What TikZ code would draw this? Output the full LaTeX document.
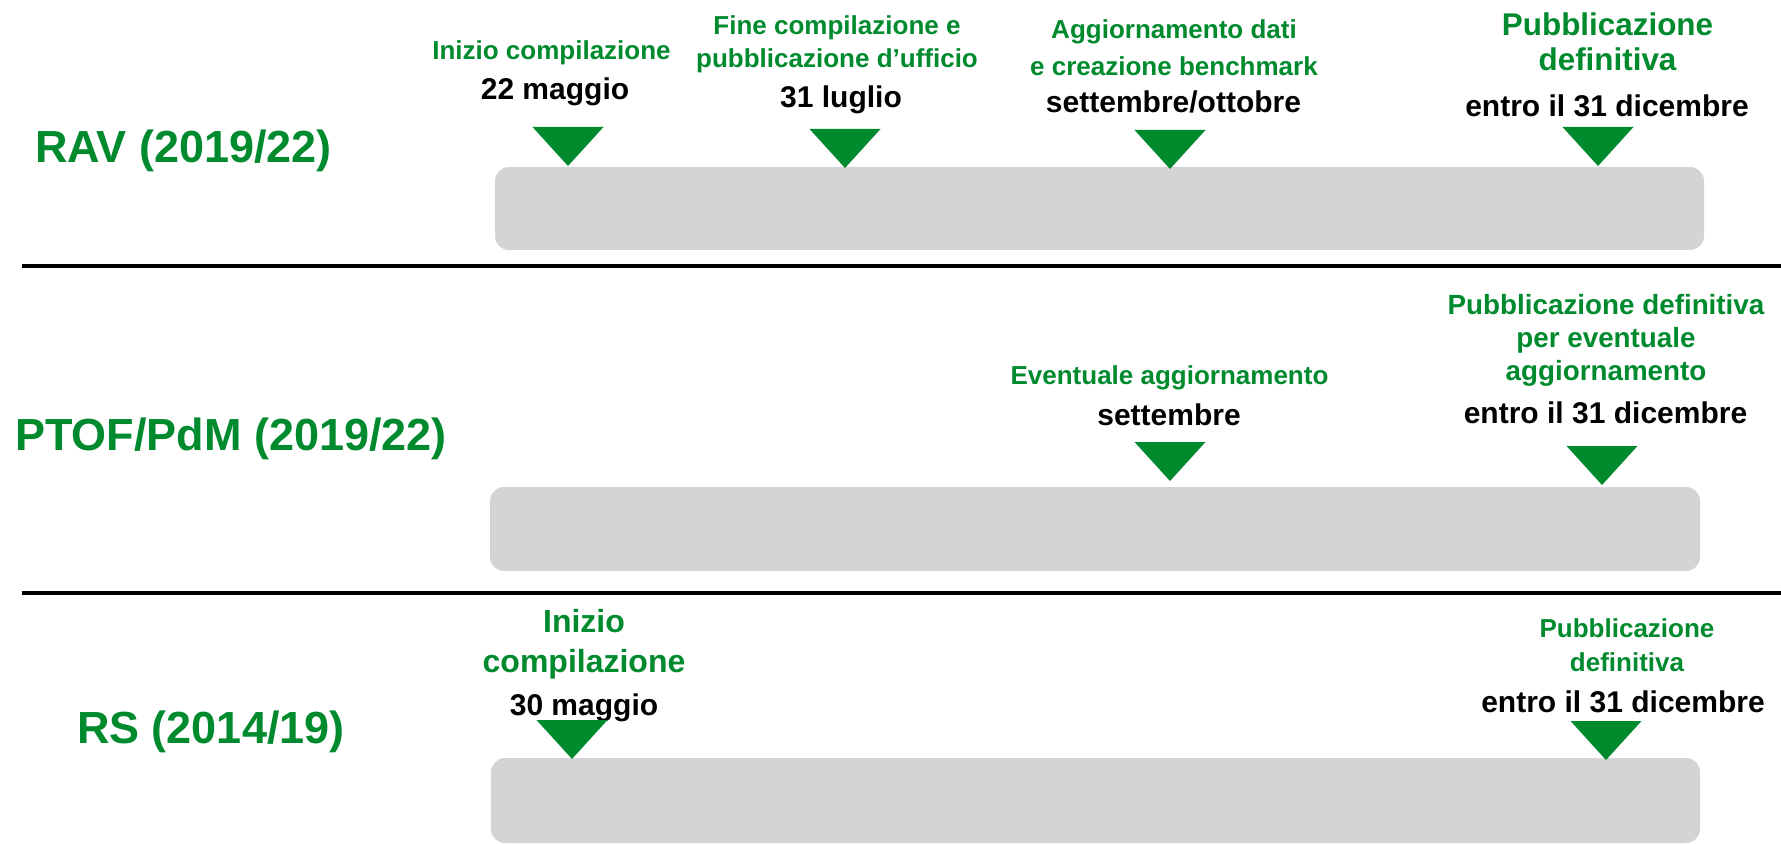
\documentclass[tikz,border=0pt]{standalone}
\usepackage{fontspec}
\setmainfont{Liberation Sans}
\usepackage{tikz}
\definecolor{tgreen}{RGB}{0,138,46}
\definecolor{tgray}{RGB}{212,212,214}

\begin{document}
\begin{tikzpicture}[x=0.5pt, y=-0.5pt, inner sep=0pt, outer sep=0pt,
	phase/.style={anchor=base west, text=tgreen, font=\bfseries\fontsize{22.5}{27}\selectfont},
	ev/.style={anchor=base, align=center, text=tgreen, font=\bfseries\fontsize{13}{18.5}\selectfont},
	date/.style={anchor=base, text=black, font=\bfseries\fontsize{15}{18}\selectfont},
	bar/.style={fill=tgray, rounded corners=7pt},
	tri/.style={fill=tgreen},
	sep/.style={line width=2pt}]
					\useasboundingbox (0,0) rectangle (1781,844);
					\draw[sep] (22,266) -- (1781,266);
					\draw[sep] (22,593) -- (1781,593);
					\fill[bar] (495,167) rectangle (1704,250);
					\fill[bar] (490,487) rectangle (1700,571);
					\fill[bar] (491,758) rectangle (1700,843);
					\node[phase] (rav) at (35,163) {RAV (2019/22)};
					\node[phase] (ptof) at (15,450) {PTOF/PdM (2019/22)};
					\node[phase] (rs) at (77,743) {RS (2014/19)};
					\node[ev] (ravinizio) at (551.5,60) {Inizio compilazione};
					\node[date] (ravinizioD) at (555,100) {22 maggio};
					\node[ev, font=\bfseries\fontsize{13}{16.5}\selectfont] (ravfine) at (837,68) {Fine compilazione e\\pubblicazione d’ufficio};
					\node[date] (ravfineD) at (841,108) {31 luglio};
					\node[ev] (ravagg) at (1174,76) {Aggiornamento dati\\e creazione benchmark};
					\node[date] (ravaggD) at (1173.5,113) {settembre/ottobre};
					\node[ev, font=\bfseries\fontsize{15.7}{17.5}\selectfont] (ravpub) at (1607.5,71) {Pubblicazione\\definitiva};
					\node[date] (ravpubD) at (1607,117) {entro il 31 dicembre};
					\node[ev] (ptofagg) at (1169.5,385) {Eventuale aggiornamento};
					\node[date] (ptofaggD) at (1169,425) {settembre};
					\node[ev, font=\bfseries\fontsize{13.9}{16.25}\selectfont] (ptofpub) at (1606,380) {Pubblicazione definitiva\\per eventuale\\aggiornamento};
					\node[date] (ptofpubD) at (1605.5,423) {entro il 31 dicembre};
					\node[ev, font=\bfseries\fontsize{16}{20}\selectfont] (rsinizio) at (584,672) {Inizio\\compilazione};
					\node[date] (rsinizioD) at (584,715) {30 maggio};
					\node[ev, font=\bfseries\fontsize{13}{17}\selectfont] (rspub) at (1627,671) {Pubblicazione\\definitiva};
					\node[date] (rspubD) at (1623,712) {entro il 31 dicembre};
					\foreach \x/\y in {568/166, 845/168, 1170/169, 1598/166, 1170/481, 1602/485, 572/759, 1606/760}
						\fill[tri] (\x-35.5,\y-39) -- (\x+35.5,\y-39) -- (\x,\y) -- cycle;
\end{tikzpicture}
\end{document}
